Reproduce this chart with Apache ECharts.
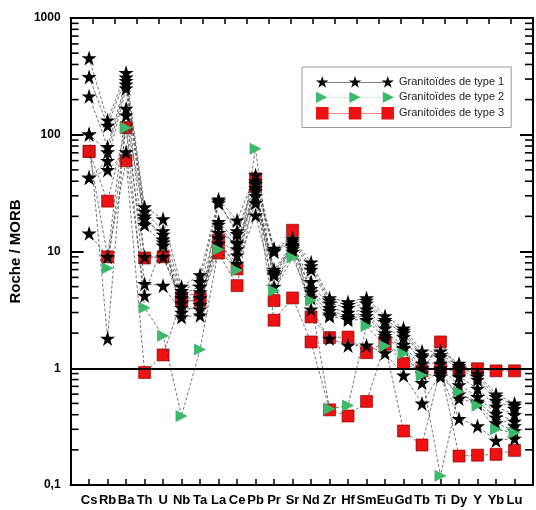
<!DOCTYPE html>
<html>
<head>
<meta charset="utf-8">
<script src="https://cdn.jsdelivr.net/npm/echarts@6/dist/echarts.min.js"></script>
<style>
html,body{margin:0;padding:0;background:#fff;}
#chart{width:536px;height:510px;}
</style>
</head>
<body>
<div id="chart"></div>
<script>
// Categories (elements)
const categories = ['Cs','Rb','Ba','Th','U','Nb','Ta','La','Ce','Pb','Pr','Sr','Nd','Zr','Hf','Sm','Eu','Gd','Tb','Ti','Dy','Y','Yb','Lu'];

// Granitoïdes de type 1 (8 samples)
const type1_s1 = [455,133,340,24,19,5.0,6.3,28,18.5,45,10.6,12.9,8.1,4.0,3.7,4.0,2.8,2.2,1.4,1.4,1.1,0.9,0.6,0.5];
const type1_s2 = [313,120,310,22,15,4.6,5.5,26,15,40,10,12,7,3.6,3.3,3.6,2.5,2.0,1.25,1.25,1.0,0.8,0.53,0.45];
const type1_s3 = [214,79,290,20,12.7,4.3,5.0,18,12,35,7,11.5,5.5,3.3,3.0,3.2,2.2,1.85,1.1,1.1,0.85,0.67,0.47,0.4];
const type1_s4 = [101,71,270,17,11.3,4.0,4.5,14.5,11.7,30,6.5,11,4.8,3.1,2.8,3.0,2.0,1.6,1.0,1.0,0.72,0.57,0.41,0.35];
const type1_s5 = [43,60,250,9,9,3.6,4.0,13,9.3,26,6.3,10.5,4.0,2.8,2.6,2.6,1.8,1.47,0.75,0.95,0.55,0.5,0.34,0.29];
const type1_s6 = [14.3,9,168,5.3,5.1,3.0,3.5,11.7,7.9,20.4,5.0,10,3.2,1.8,1.57,1.57,1.35,0.87,0.5,0.9,0.37,0.32,0.24,0.25];
const type1_s7 = [101,1.8,147,19,14,2.75,2.84,27,14.2,38,10.2,12.5,7.5,3.8,3.5,3.8,2.6,2.1,1.3,1.3,1.05,0.85,0.57,0.48];
const type1_s8 = [43,50,71,4.2,12,3.3,3.2,17,10.5,33,6.7,11.2,4.5,2.9,2.7,2.8,1.9,1.5,0.9,0.85,0.6,0.52,0.38,0.32];

// Granitoïdes de type 2 (1 sample)
const type2_s1 = [null,7.2,115,3.3,1.9,0.39,1.45,10.4,6.9,76,4.6,8.9,3.8,0.45,0.48,2.3,1.55,1.34,0.87,0.12,0.63,0.48,0.30,0.28];

// Granitoïdes de type 3 (2 samples)
const type3_s1 = [72,27,115,8.8,9,4.0,4.0,12.5,7.1,42,3.8,15.2,2.75,1.83,1.85,1.36,1.68,1.1,0.95,1.68,0.95,0.99,0.95,0.95];
const type3_s2 = [72,9,60,0.92,1.3,3.8,3.8,9.7,5.1,36,2.58,4.0,1.68,0.44,0.39,0.52,1.6,0.29,0.22,1.0,0.177,0.18,0.183,0.198];

// Y axis minor tick values
const yMinorTicks = [0.2,0.3,0.4,0.5,0.6,0.7,0.8,0.9,2,3,4,5,6,7,8,9,20,30,40,50,60,70,80,90,200,300,400,500,600,700,800,900];

const NAME1 = 'Granitoïdes de type 1';
const NAME2 = 'Granitoïdes de type 2';
const NAME3 = 'Granitoïdes de type 3';

const STAR = 'path://M50,2 L61.2,36.2 L97.6,36.2 L68.2,57.4 L79.4,91.6 L50,70.4 L20.6,91.6 L31.8,57.4 L2.4,36.2 L38.8,36.2 Z';
const TRI = 'path://M0,0 L100,50 L0,100 Z';
const SQR = 'path://M0,0 L100,0 L100,100 L0,100 Z';

function starAt(cx){
  const pts = [[50,2],[61.2,36.2],[97.6,36.2],[68.2,57.4],[79.4,91.6],[50,70.4],[20.6,91.6],[31.8,57.4],[2.4,36.2],[38.8,36.2]];
  return 'M' + pts.map(p => (p[0]-50+cx).toFixed(1)+','+p[1]).join(' L') + ' Z';
}
function triAt(cx){ const x0=cx-40; return 'M'+x0+',8 L'+(x0+84)+',50 L'+x0+',92 Z'; }
function sqAt(cx){ const x0=cx-48; return 'M'+x0+',2 L'+(x0+96)+',2 L'+(x0+96)+',98 L'+x0+',98 Z'; }
const LINE = 'M50,48.5 L550,48.5 L550,51.5 L50,51.5 Z ';
const legendStar = 'path://' + LINE + starAt(50) + ' ' + starAt(300) + ' ' + starAt(550);
const legendTri = 'path://' + LINE + triAt(50) + ' ' + triAt(300) + ' ' + triAt(550);
const legendSq = 'path://' + LINE + sqAt(50) + ' ' + sqAt(300) + ' ' + sqAt(550);

function pairs(arr){ return arr.map((v,i) => [i, v]); }

const lineStyle = {color:'#333', width:0.8, type:[3,2], opacity:0.85};

const series = [];
[type3_s1, type3_s2].forEach(arr => series.push({
  name: NAME3, type:'line', data: pairs(arr), symbol: SQR, symbolSize: 12,
  itemStyle:{color:'#ee1111', borderColor:'#7a0000', borderWidth:0.6},
  lineStyle: lineStyle, connectNulls:false, z:2
}));
[type1_s1,type1_s2,type1_s3,type1_s4,type1_s5,type1_s6,type1_s7,type1_s8].forEach(arr => series.push({
  name: NAME1, type:'line', data: pairs(arr), symbol: STAR, symbolSize: 15,
  itemStyle:{color:'#000'}, lineStyle: lineStyle, z:3
}));
series.push({
  name: NAME2, type:'line', data: pairs(type2_s1), symbol: TRI, symbolSize: 12,
  itemStyle:{color:'#3cb96a'}, lineStyle: lineStyle, z:4,
  markLine:{silent:true, symbol:['none','none'], label:{show:false},
    lineStyle:{color:'#000', width:2, type:'solid'}, data:[{yAxis:1}]}
});
series.push({
  type:'custom', silent:true, z:5, clip:false,
  data: yMinorTicks.map(v => [-1, v]),
  renderItem: function(params, api){
    const v = api.value(1);
    const l = api.coord([-1, v]);
    const r = api.coord([24, v]);
    return {type:'group', children:[
      {type:'line', shape:{x1:l[0], y1:l[1], x2:l[0]+8, y2:l[1]}, style:{stroke:'#000', lineWidth:1.6}},
      {type:'line', shape:{x1:r[0]-8, y1:r[1], x2:r[0], y2:r[1]}, style:{stroke:'#000', lineWidth:1.6}}
    ]};
  }
});

const FONT = 'Arial, "Liberation Sans", sans-serif';

const option = {
  animation:false,
  backgroundColor:'#fff',
  grid:{left:70, right:1, top:18, bottom:25},
  legend:{
    orient:'vertical', left:302, top:67,
    padding:[9,7,8,14], itemGap:4, itemWidth:78, itemHeight:13,
    borderColor:'#9a9a9a', borderWidth:1, backgroundColor:'#fff',
    textStyle:{fontFamily:FONT, fontSize:11, color:'#222'},
    data:[
      {name:NAME1, icon:legendStar, itemStyle:{borderWidth:0}},
      {name:NAME2, icon:legendTri, itemStyle:{borderWidth:0}},
      {name:NAME3, icon:legendSq, itemStyle:{borderWidth:0, color:'#ee1111'}}
    ]
  },
  xAxis:[{
    type:'value', min:-1, max:24, interval:1, position:'bottom',
    axisLine:{show:true, onZero:false, lineStyle:{color:'#000', width:2}},
    axisTick:{show:true, inside:true, length:6, lineStyle:{color:'#000', width:1.5}},
    splitLine:{show:false},
    axisLabel:{show:true, margin:9, fontFamily:FONT, fontSize:13, fontWeight:'bold', color:'#000',
      showMinLabel:true, showMaxLabel:true,
      formatter: v => (v>=0 && v<categories.length) ? categories[Math.round(v)] : ''}
  },{
    type:'value', min:0, max:21, interval:1, position:'top',
    axisLine:{show:true, onZero:false, lineStyle:{color:'#000', width:2}},
    axisTick:{show:true, inside:true, length:6, lineStyle:{color:'#000', width:1.5}},
    splitLine:{show:false}, axisLabel:{show:false}
  }],
  yAxis:[{
    type:'log', logBase:10, min:0.1, max:1000, position:'left',
    name:'Roche / MORB', nameLocation:'middle', nameGap:41, nameRotate:90,
    nameTextStyle:{fontFamily:FONT, fontSize:15, fontWeight:'bold', color:'#000'},
    axisLine:{show:true, onZero:false, lineStyle:{color:'#000', width:2}},
    axisTick:{show:true, inside:true, length:13, lineStyle:{color:'#000', width:2}},
    splitLine:{show:false},
    axisLabel:{show:true, margin:10, fontFamily:FONT, fontSize:12, fontWeight:'bold', color:'#000',
      formatter: v => Math.abs(v-0.1)<1e-9 ? '0,1' : String(Math.round(v))}
  },{
    type:'log', logBase:10, min:0.1, max:1000, position:'right',
    axisLine:{show:true, onZero:false, lineStyle:{color:'#000', width:2}},
    axisTick:{show:true, inside:true, length:13, lineStyle:{color:'#000', width:2}},
    splitLine:{show:false}, axisLabel:{show:false}
  }],
  series: series
};

const chart = echarts.init(document.getElementById('chart'), null, {renderer:'canvas'});
chart.setOption(option);
</script>
</body>
</html>
